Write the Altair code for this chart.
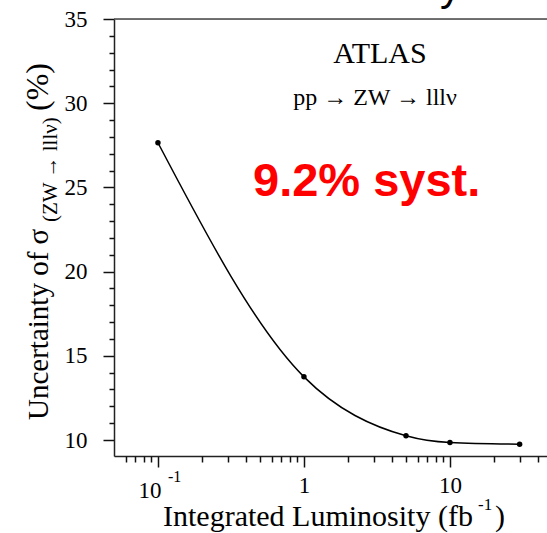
import altair as alt
import pandas as pd

# Data
lumi = [0.1, 1, 5, 10, 30]                 # fb^-1
uncert = [27.65, 13.75, 10.25, 9.85, 9.75]  # %

x_major = [0.1, 1, 10]
x_minor = [0.06, 0.07, 0.08, 0.09, 0.2, 0.3, 0.4, 0.5, 0.6, 0.7, 0.8, 0.9,
           2, 3, 4, 5, 6, 7, 8, 9, 20, 30, 40]
y_major = [10, 15, 20, 25, 30, 35]
y_minor = [11, 12, 13, 14, 16, 17, 18, 19, 21, 22, 23, 24, 26, 27, 28, 29, 31, 32, 33, 34]

W, H = 433, 437
SERIF = "Liberation Serif"
SANS = "Liberation Sans"

df = pd.DataFrame({"lumi": lumi, "unc": uncert})

xscale = alt.Scale(type="log", domain=[0.05, 46.2], nice=False)
yscale = alt.Scale(domain=[9.05, 35], nice=False, zero=False)

common = dict(title=None, grid=False, labelOverlap=False, labelFlush=False, labelBound=False,
              domainColor="#222", domainWidth=1.5, tickColor="#111", tickWidth=1.5)

xaxis_major = alt.Axis(
    orient="bottom", values=x_major,
    labelExpr="datum.value == 1 ? '1' : (datum.value == 10 ? '10' : '')",
    labelFont=SERIF, labelFontSize=23, labelColor="black", labelPadding=7, tickSize=11, **common)
xaxis_minor = alt.Axis(orient="bottom", values=x_minor, labels=False, domain=False,
                       tickSize=6, **common)
yaxis_major = alt.Axis(
    orient="left", values=y_major, labelFont=SERIF, labelFontSize=23, labelColor="black",
    labelPadding=16, tickSize=11, **common)
yaxis_minor = alt.Axis(orient="left", values=y_minor, labels=False, domain=False,
                       tickSize=5, **common)

base = alt.Chart(df)
line = base.mark_line(color="black", strokeWidth=1.5, interpolate="monotone").encode(
    x=alt.X("lumi:Q", scale=xscale, axis=xaxis_major),
    y=alt.Y("unc:Q", scale=yscale, axis=yaxis_major),
)
pts = base.mark_circle(color="black", size=30, opacity=1).encode(
    x=alt.X("lumi:Q", scale=xscale, axis=xaxis_minor),
    y=alt.Y("unc:Q", scale=yscale, axis=yaxis_minor),
)

one = alt.Chart(pd.DataFrame({"a": [0]}))
top_rule = one.mark_rule(color="#444", strokeWidth=1.5).encode(
    x=alt.value(0), x2=alt.value(W), y=alt.value(0))

def txt(text, x, y, size, font=SERIF, align="left", angle=0, color="black", weight="normal"):
    kw = dict(text=text, align=align, baseline="alphabetic", fontSize=size, font=font,
              color=color, fontWeight=weight)
    if angle:
        kw["angle"] = angle
    return one.mark_text(**kw).encode(x=alt.value(x), y=alt.value(y))

# 10^-1 label at x = 0.1 via the scale
lab_df = pd.DataFrame({"v": [0.1]})
lab10 = alt.Chart(lab_df).mark_text(text="10", align="center", baseline="alphabetic",
                                    fontSize=23, font=SERIF, color="black", dx=-8).encode(
    x=alt.X("v:Q", scale=xscale, axis=None), y=alt.value(H + 42))
labexp = alt.Chart(lab_df).mark_text(text="-1", align="left", baseline="alphabetic",
                                     fontSize=16, font=SERIF, color="black", dx=10).encode(
    x=alt.X("v:Q", scale=xscale, axis=None), y=alt.value(H + 26))

annots = [
    txt("ATLAS", 266, 44, 30, align="center"),
    txt("pp \u2192 ZW \u2192 lll\u03bd", 261, 86, 24, align="center"),
    txt("9.2% syst.", 139, 177, 47, font=SANS, color="#ff0000", weight="bold"),
    txt("y", 326, -19, 42, font=SANS),
    # x title
    txt("Integrated Luminosity (fb", 49, 507, 30),
    txt("-1", 364, 491, 17),
    txt(")", 381, 507, 30),
    # y title (rotated)
    txt("Uncertainty of \u03c3", -66, 401, 29, angle=270),
    txt("(ZW \u2192 lll\u03bd)", -57, 203, 21, angle=270),
    txt("(%)", -66, 92, 32, angle=270),
]

chart = alt.layer(line, pts, top_rule, lab10, labexp, *annots).resolve_axis(
    x="independent", y="independent"
).properties(
    width=W, height=H,
    autosize=alt.AutoSizeParams(type="none"),
    padding={"left": 114, "top": 19, "right": 0, "bottom": 77},
).configure_view(stroke=None).configure(background="white")

chart.save("out.html", embed_options={"renderer": "svg", "actions": False})
